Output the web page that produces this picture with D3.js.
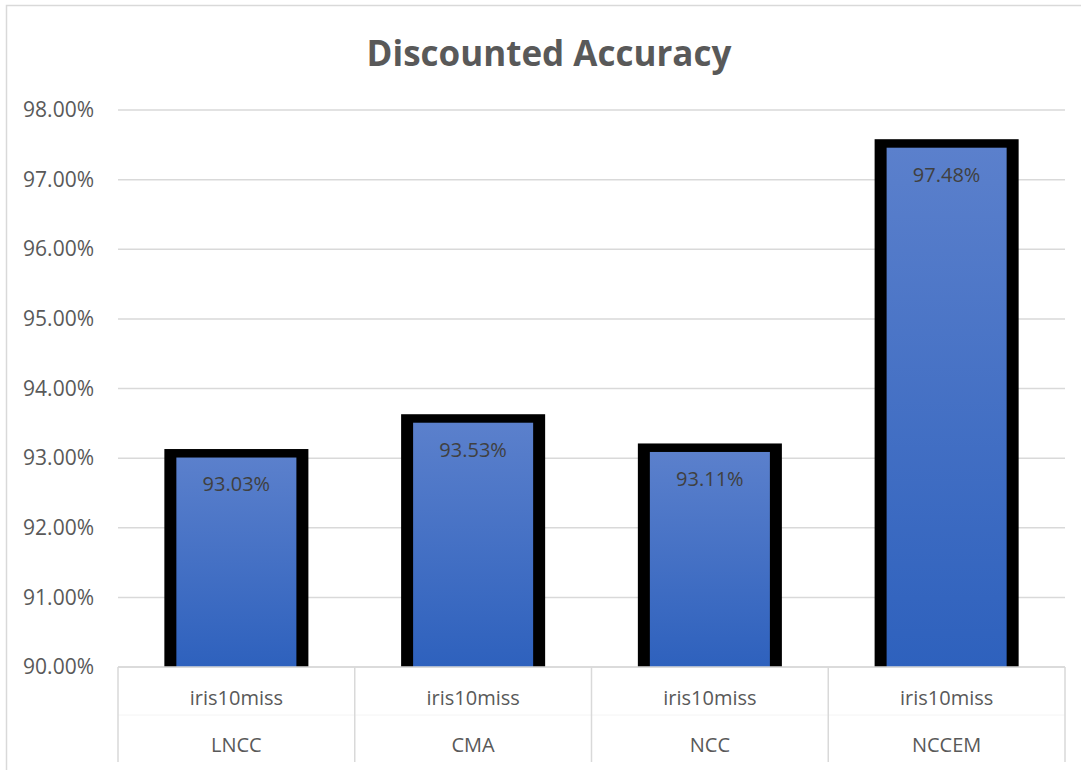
<!DOCTYPE html>
<html>
<head>
<meta charset="utf-8">
<script src="https://cdn.jsdelivr.net/npm/d3@7"></script>
<style>
  body { margin: 0; background: #fff; }
  text { font-family: "Open Sans", "Noto Sans", sans-serif; }
</style>
</head>
<body>
<div id="chart"></div>
<script>
// chart values
var methods = ["LNCC", "CMA", "NCC", "NCCEM"];
var datasets = ["iris10miss", "iris10miss", "iris10miss", "iris10miss"];
var accuracy = [93.03, 93.53, 93.11, 97.48];
var yTicks = [90, 91, 92, 93, 94, 95, 96, 97, 98];

var svgWidth = 1081, svgHeight = 770;
var margin = { top: 110, left: 118, right: 16, bottom: 103 };
var width = svgWidth - margin.left - margin.right;
var height = svgHeight - margin.top - margin.bottom;

var svg = d3.select("#chart").append("svg")
  .attr("width", svgWidth)
  .attr("height", svgHeight);

// gradient for bar fill
var grad = svg.append("defs").append("linearGradient")
  .attr("id", "barFill")
  .attr("x1", 0).attr("y1", 0).attr("x2", 0).attr("y2", 1);
grad.append("stop").attr("offset", "0%").attr("stop-color", "#5b80cc");
grad.append("stop").attr("offset", "100%").attr("stop-color", "#2e61bd");

// outer chart border
svg.append("rect")
  .attr("x", 6.5).attr("y", 5.5)
  .attr("width", svgWidth)
  .attr("height", svgHeight)
  .attr("fill", "none")
  .attr("stroke", "#d9d9d9")
  .attr("stroke-width", 1.5);

svg.append("text")
  .attr("x", 549)
  .attr("y", 66)
  .attr("text-anchor", "middle")
  .attr("font-size", 35)
  .attr("font-weight", "bold")
  .attr("fill", "#595959")
  .text("Discounted Accuracy");

var chartGroup = svg.append("g")
  .attr("transform", `translate(${margin.left}, ${margin.top})`);

var xScale = d3.scaleBand()
  .domain(methods)
  .range([0, width])
  .paddingInner(0)
  .paddingOuter(0);

var yScale = d3.scaleLinear()
  .domain([90, 98])
  .range([height, 0]);

// gridlines
chartGroup.selectAll(".grid")
  .data(yTicks)
  .enter()
  .append("line")
  .attr("x1", 0)
  .attr("x2", width)
  .attr("y1", d => yScale(d))
  .attr("y2", d => yScale(d))
  .attr("stroke", "#d9d9d9")
  .attr("stroke-width", 1.5);

// y axis labels
var leftAxis = d3.axisLeft(yScale)
  .tickValues(yTicks)
  .tickSize(0)
  .tickPadding(24)
  .tickFormat(d => d.toFixed(2) + "%");

var yAxis = chartGroup.append("g").call(leftAxis);
yAxis.select(".domain").remove();
yAxis.selectAll("text")
  .attr("font-size", 21)
  .attr("fill", "#595959")
  .attr("font-family", "Open Sans");

// bars: black frame then gradient fill
var bw = xScale.bandwidth();
var innerW = bw * 0.507;
var frame = 12;

chartGroup.selectAll(".frame")
  .data(accuracy)
  .enter()
  .append("rect")
  .attr("x", (d, i) => xScale(methods[i]) + (bw - innerW) / 2 - frame)
  .attr("y", d => yScale(d) - 7)
  .attr("width", innerW + frame * 2)
  .attr("height", d => height - yScale(d) + 7)
  .attr("fill", "#000");

chartGroup.selectAll(".bar")
  .data(accuracy)
  .enter()
  .append("rect")
  .attr("x", (d, i) => xScale(methods[i]) + (bw - innerW) / 2)
  .attr("y", d => yScale(d) + 1.5)
  .attr("width", innerW)
  .attr("height", d => height - yScale(d) - 1.5)
  .attr("fill", "url(#barFill)");

chartGroup.selectAll(".valueLabel")
  .data(accuracy)
  .enter()
  .append("text")
  .attr("x", (d, i) => xScale(methods[i]) + bw / 2)
  .attr("y", d => yScale(d) + 30)
  .attr("text-anchor", "middle")
  .attr("dominant-baseline", "middle")
  .attr("font-size", 20)
  .attr("fill", "#404040")
  .text(d => d.toFixed(2) + "%");

// category table below plot
chartGroup.append("line")
  .attr("x1", 0).attr("x2", width)
  .attr("y1", height).attr("y2", height)
  .attr("stroke", "#d9d9d9")
  .attr("stroke-width", 1.5);

chartGroup.append("line")
  .attr("x1", 0).attr("x2", width)
  .attr("y1", height + 48).attr("y2", height + 48)
  .attr("stroke", "#f4f4f4")
  .attr("stroke-width", 1);

var bounds = methods.map(m => xScale(m)).concat([width]);
chartGroup.selectAll(".sep")
  .data(bounds)
  .enter()
  .append("line")
  .attr("x1", d => d).attr("x2", d => d)
  .attr("y1", height).attr("y2", height + 95)
  .attr("stroke", "#d9d9d9")
  .attr("stroke-width", 1.5);

chartGroup.selectAll(".ds")
  .data(datasets)
  .enter()
  .append("text")
  .attr("x", (d, i) => xScale(methods[i]) + bw / 2)
  .attr("y", height + 33)
  .attr("text-anchor", "middle")
  .attr("dominant-baseline", "middle")
  .attr("font-size", 20)
  .attr("fill", "#595959")
  .text(d => d);

chartGroup.selectAll(".method")
  .data(methods)
  .enter()
  .append("text")
  .attr("x", d => xScale(d) + bw / 2)
  .attr("y", height + 80)
  .attr("text-anchor", "middle")
  .attr("dominant-baseline", "middle")
  .attr("font-size", 20)
  .attr("fill", "#595959")
  .text(d => d);
</script>
</body>
</html>
